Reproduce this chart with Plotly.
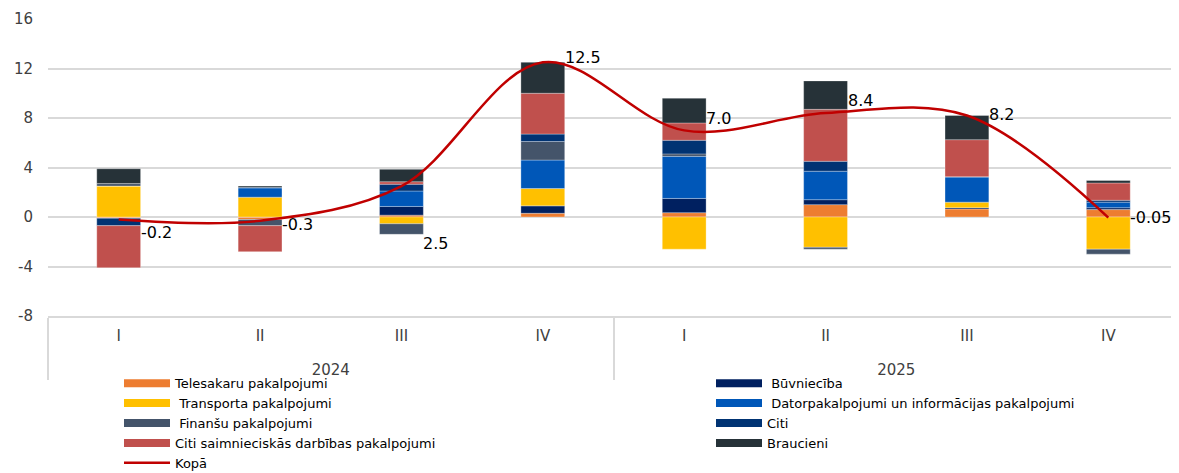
import plotly.graph_objects as go

# ---- data ----
years = ["2024"] * 4 + ["2025"] * 4
quarters = ["I", "II", "III", "IV"] * 2

telesakaru = [-0.1, -0.2, 0.15, 0.3, 0.35, 1.0, 0.65, 0.6]
buvnieciba = [0.0, 0.0, 0.7, 0.6, 1.15, 0.4, 0.1, 0.15]
transporta = [2.5, 1.6, -0.55, 1.4, -2.6, -2.45, 0.45, -2.6]
dator = [0.0, 0.75, 1.25, 2.3, 3.4, 2.3, 2.05, 0.45]
finansu = [0.2, -0.5, -0.85, 1.5, 0.2, -0.15, 0.0, -0.4]
citi = [-0.6, 0.05, 0.55, 0.6, 1.1, 0.8, 0.0, 0.15]
citi_saimn = [-3.4, -2.1, 0.2, 3.3, 1.4, 4.2, 3.0, 1.4]
braucieni = [1.2, 0.1, 1.0, 2.5, 2.0, 2.3, 1.95, 0.2]
kopa = [-0.2, -0.3, 2.5, 12.5, 7.0, 8.4, 8.2, -0.05]
kopa_labels = ["-0.2", "-0.3", "2.5", "12.5", "7.0", "8.4", "8.2", "-0.05"]

y_tickvals = [-8, -4, 0, 4, 8, 12, 16]
y_ticktext = ["-8", "-4", "0", "4", "8", "12", "16"]

# label vertical offsets in px (style)
label_yshift = [-13, -4, -57, 5, 12, 13, 1, 0]

series = [
    ("Telesakaru pakalpojumi", telesakaru, "#ED7D31", "legend"),
    (" Būvniecība", buvnieciba, "#002060", "legend2"),
    (" Transporta pakalpojumi", transporta, "#FFC000", "legend"),
    (" Datorpakalpojumi un informācijas pakalpojumi", dator, "#0057B8", "legend2"),
    (" Finanšu pakalpojumi", finansu, "#44546A", "legend"),
    ("Citi", citi, "#003373", "legend2"),
    ("Citi saimnieciskās darbības pakalpojumi", citi_saimn, "#C0504D", "legend"),
    ("Braucieni", braucieni, "#263238", "legend2"),
]

# quarter labels get an empty second line so the year level sits lower (as in the original)
quarter_axis_labels = [q + "<br>\u00a0" for q in quarters]
x = [years, quarter_axis_labels]
fig = go.Figure()

for name, vals, color, lg in series:
    fig.add_trace(go.Bar(
        x=x, y=vals, name=name,
        marker=dict(color=color, line=dict(color="rgba(255,255,255,0.5)", width=0.6)),
        showlegend=False,
    ))

fig.add_trace(go.Scatter(
    x=x, y=kopa, name="Kopā", mode="lines",
    line=dict(color="#C00000", width=2.5, shape="spline", smoothing=1.0),
    showlegend=False,
))

# legend entries (wide rectangle look)
for name, vals, color, lg in series:
    fig.add_trace(go.Scatter(
        x=[None], y=[None], mode="lines", name=name,
        line=dict(color=color, width=8), legend=lg,
    ))
fig.add_trace(go.Scatter(
    x=[None], y=[None], mode="lines", name="Kopā",
    line=dict(color="#C00000", width=2.5), legend="legend",
))

for i, (v, t) in enumerate(zip(kopa, kopa_labels)):
    fig.add_annotation(
        x=i, y=v, text=t, showarrow=False, xanchor="left", yanchor="middle",
        xshift=20, yshift=label_yshift[i],
        font=dict(family="DejaVu Sans, Verdana, sans-serif", size=16, color="#000000"),
    )

grid = "#D9D9D9"
legend_common = dict(
    y=-0.176, yanchor="top", xanchor="left",
    orientation="v", itemwidth=46, font=dict(size=13, color="#000000"),
    bgcolor="rgba(0,0,0,0)", tracegroupgap=0,
)
fig.update_layout(
    template="none",
    width=1171, height=465,
    margin=dict(l=40, r=0, t=11, b=157, autoexpand=False),
    barmode="relative",
    bargap=0.69,
    plot_bgcolor="white", paper_bgcolor="white",
    font=dict(family="DejaVu Sans, Verdana, sans-serif", size=15, color="#404040"),
    xaxis=dict(
        type="multicategory", showgrid=False, showline=True, linecolor=grid, linewidth=1.5,
        ticks="", showdividers=True, dividercolor=grid, dividerwidth=1.5,
        ticklabelstandoff=5,
        tickfont=dict(size=15, color="#404040"), zeroline=False,
    ),
    yaxis=dict(
        range=[-8, 16], tickvals=y_tickvals, ticktext=y_ticktext,
        showgrid=True, gridcolor=grid, gridwidth=1.5,
        zeroline=True, zerolinecolor=grid, zerolinewidth=1.5, showline=False,
        ticks="", ticklabelstandoff=14, tickfont=dict(size=15, color="#404040"),
    ),
    legend=dict(x=(124 - 8 - 5 - 40) / 1131, **legend_common),
    legend2=dict(x=(716 - 8 - 5 - 40) / 1131, **legend_common),
)

fig.write_html("out.html")
